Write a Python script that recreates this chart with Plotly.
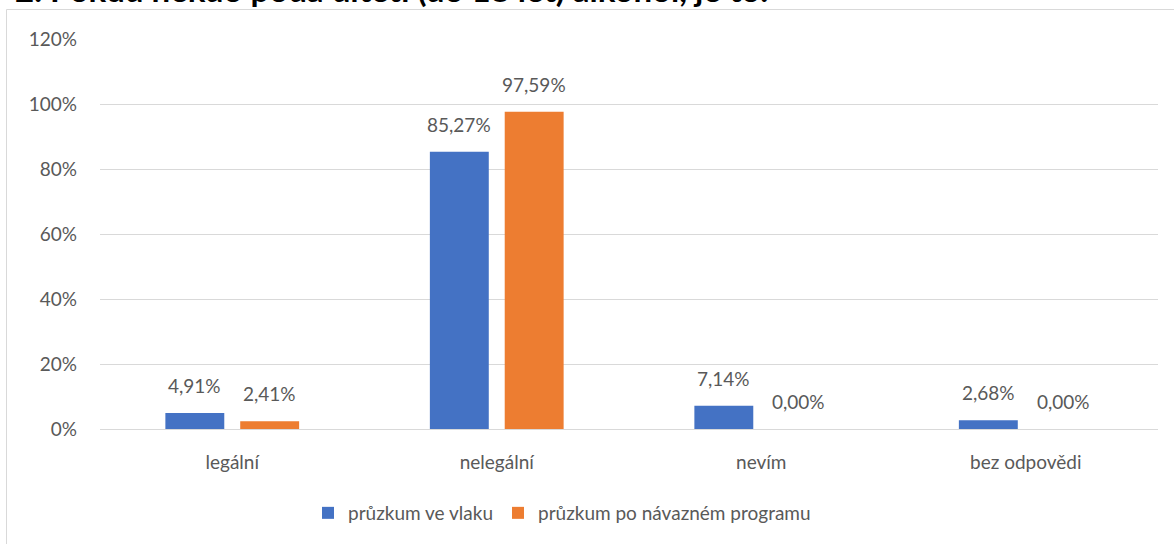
import plotly.graph_objects as go

title_text = "2. Pokud někdo podá dítěti (do 18 let) alkohol, je to:"
categories = ["legální", "nelegální", "nevím", "bez odpovědi"]
series_names = ["průzkum ve vlaku", "průzkum po návazném programu"]
vlak = [4.91, 85.27, 7.14, 2.68]
program = [2.41, 97.59, 0.00, 0.00]
y_ticks = [0, 20, 40, 60, 80, 100, 120]
y_tick_labels = ["0%", "20%", "40%", "60%", "80%", "100%", "120%"]

colors = ["#4472C4", "#ED7D31"]
FONT = "Lato, Carlito, Calibri, sans-serif"
TXT = "#595959"
FS = 19

W, H = 1174, 544
L, R, T, B = 100, 16, 39, 115
plot_w = W - L - R
plot_h = H - T - B

def px_x(p):
    return (p - L) / plot_w

def px_y(p):
    return (H - B - p) / plot_h

fig = go.Figure()
for name, vals, col in zip(series_names, [vlak, program], colors):
    fig.add_trace(go.Bar(x=categories, y=vals, name=name, marker_color=col,
                         marker_line_width=0))

def fmt(v):
    return f"{v:.2f}%".replace(".", ",")

shift = [-37.5, 37.5]
for si, vals in enumerate([vlak, program]):
    for c, v in zip(categories, vals):
        fig.add_annotation(x=c, y=v, xref="x", yref="y", text=fmt(v),
                           showarrow=False, xshift=shift[si], yanchor="bottom",
                           yshift=14, font=dict(family=FONT, size=FS, color=TXT))

# title (clipped at top of page, as in the reference)
fig.add_annotation(x=px_x(13), y=px_y(11), xref="paper", yref="paper",
                   xanchor="left", yanchor="bottom", text="<b>" + title_text + "</b>",
                   showarrow=False, font=dict(family=FONT, size=33, color="#000000"))

# chart area border
fig.add_shape(type="rect", xref="paper", yref="paper",
              x0=px_x(6.5), x1=px_x(1185), y0=px_y(560), y1=px_y(9.5),
              line=dict(color="#D9D9D9", width=1), fillcolor="rgba(0,0,0,0)",
              layer="below")

fig.update_layout(
    width=W, height=H,
    margin=dict(l=L, r=R, t=T, b=B, pad=0, autoexpand=False),
    paper_bgcolor="white", plot_bgcolor="white",
    barmode="group", bargap=0.434, bargroupgap=0.213,
    font=dict(family=FONT, size=FS, color=TXT),
    showlegend=True,
    legend=dict(orientation="h", x=px_x(562), xanchor="center",
                y=px_y(513), yanchor="middle",
                font=dict(family=FONT, size=FS, color=TXT),
                itemwidth=30, tracegroupgap=0),
    xaxis=dict(showgrid=False, showline=False, ticks="", ticklabelstandoff=20,
               tickfont=dict(family=FONT, size=FS, color=TXT)),
    yaxis=dict(range=[0, 120], tickmode="array", tickvals=y_ticks,
               ticktext=y_tick_labels,
               showgrid=True, gridcolor="#D9D9D9", gridwidth=1,
               zeroline=True, zerolinecolor="#D9D9D9", zerolinewidth=1,
               showline=False, ticks="", ticklabelstandoff=22,
               tickfont=dict(family=FONT, size=FS, color=TXT)),
)

fig.write_html("out.html", config={"displayModeBar": False},
               post_script="document.body.style.margin='0';document.body.style.overflow='hidden';")
